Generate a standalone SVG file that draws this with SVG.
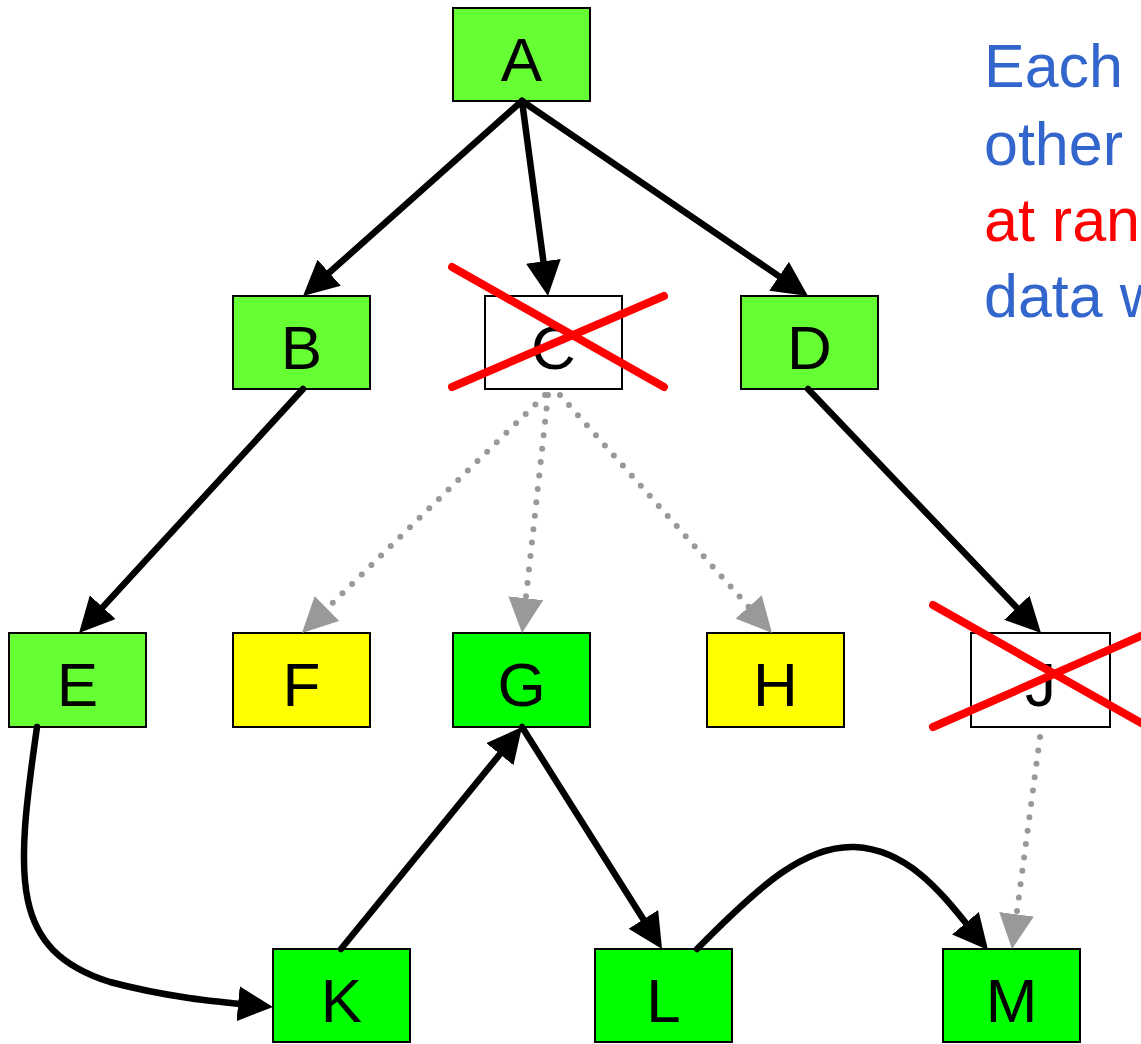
<svg xmlns="http://www.w3.org/2000/svg" width="1141" height="1044" viewBox="0 0 1141 1044">
  <style>
    .node rect { stroke: #000; stroke-width: 2; }
    .lime { fill: #66ff33; }
    .green { fill: #00ff00; }
    .yellow { fill: #ffff00; }
    .plain { fill: #ffffff; }
    .node text { font-family: "Liberation Sans", Arial, sans-serif; font-size: 62px; fill: #000; text-anchor: middle; }
    .edge { fill: none; stroke: #000; stroke-width: 6.5; stroke-linecap: round; marker-end: url(#arrow); }
    .dotted { fill: none; stroke: #999999; stroke-width: 6; stroke-linecap: round; stroke-dasharray: 0 13.5; marker-end: url(#arrow-grey); }
    .cross line { stroke: #ff0000; stroke-width: 8; stroke-linecap: round; }
    .note { font-family: "Liberation Sans", Arial, sans-serif; font-size: 61px; }
  </style>
  <defs>
    <marker id="arrow" markerUnits="userSpaceOnUse" viewBox="0 0 35 35" markerWidth="35" markerHeight="35" refX="25" refY="17.5" orient="auto">
      <path d="M0,0 L35,17.5 L0,35 z" fill="#000"/>
    </marker>
    <marker id="arrow-grey" markerUnits="userSpaceOnUse" viewBox="0 0 35 35" markerWidth="35" markerHeight="35" refX="25" refY="17.5" orient="auto">
      <path d="M0,0 L35,17.5 L0,35 z" fill="#999999"/>
    </marker>
  </defs>

  <rect width="1141" height="1044" fill="#ffffff"/>

  <!-- nodes -->
  <g id="node-A" class="node"><rect class="lime" x="453" y="8" width="137" height="93"/><text x="521.5" y="81">A</text></g>
  <g id="node-B" class="node"><rect class="lime" x="233" y="296" width="137" height="93"/><text x="301.5" y="369">B</text></g>
  <g id="node-C" class="node"><rect class="plain" x="485" y="296" width="137" height="93"/><text x="553.5" y="369">C</text></g>
  <g id="node-D" class="node"><rect class="lime" x="741" y="296" width="137" height="93"/><text x="809.5" y="369">D</text></g>
  <g id="node-E" class="node"><rect class="lime" x="9" y="633" width="137" height="94"/><text x="77.5" y="706">E</text></g>
  <g id="node-F" class="node"><rect class="yellow" x="233" y="633" width="137" height="94"/><text x="301.5" y="706">F</text></g>
  <g id="node-G" class="node"><rect class="green" x="453" y="633" width="137" height="94"/><text x="521.5" y="706">G</text></g>
  <g id="node-H" class="node"><rect class="yellow" x="707" y="633" width="137" height="94"/><text x="775.5" y="706">H</text></g>
  <g id="node-J" class="node"><rect class="plain" x="971" y="633" width="139" height="94"/><text x="1040.5" y="706">J</text></g>
  <g id="node-K" class="node"><rect class="green" x="273" y="949" width="137" height="93"/><text x="341.5" y="1022">K</text></g>
  <g id="node-L" class="node"><rect class="green" x="595" y="949" width="137" height="93"/><text x="663.5" y="1022">L</text></g>
  <g id="node-M" class="node"><rect class="green" x="943" y="949" width="137" height="93"/><text x="1011.5" y="1022">M</text></g>

  <!-- connectors -->
  <g id="connectors">
    <path class="edge" d="M522,101 L310.5,289.3"/>
    <path class="edge" d="M522,101 L546.7,286.1"/>
    <path class="edge" d="M522,101 L799.7,290.4"/>
    <path class="edge" d="M303,389 L85.8,625.6"/>
    <path class="edge" d="M808,389 L1034.1,625.8"/>
    <path class="edge" d="M341,949 L515.7,734.8"/>
    <path class="edge" d="M522,727 L656.7,940.5"/>
    <path class="edge" d="M37,727 C 15,880 10,950 110,982 C 170,998 220,1002 263,1006"/>
    <path class="edge" d="M697,949 C 760,885 805,845 855,847 C 915,850 950,905 981.6,942.3"/>
    <path class="dotted" d="M545,395 L309.1,626"/>
    <path class="dotted" d="M548,395 L523.1,623.1"/>
    <path class="dotted" d="M560,395 L765.3,625.5"/>
    <path class="dotted" d="M1040,737 L1013.3,939.1"/>
  </g>

  <!-- strike-through marks on removed nodes -->
  <g id="cross-C" class="cross">
    <line x1="452" y1="267" x2="664" y2="387"/>
    <line x1="452" y1="387" x2="664" y2="296"/>
  </g>
  <g id="cross-J" class="cross">
    <line x1="933" y1="605" x2="1150" y2="728"/>
    <line x1="933" y1="727" x2="1150" y2="632"/>
  </g>

  <!-- side note -->
  <g id="note" class="note">
    <text x="984" y="87" fill="#3366cc">Each</text>
    <text x="984" y="165" fill="#3366cc">other</text>
    <text x="984" y="241" fill="#ff0000">at ran</text>
    <text x="984" y="317" fill="#3366cc">data w</text>
  </g>
</svg>
